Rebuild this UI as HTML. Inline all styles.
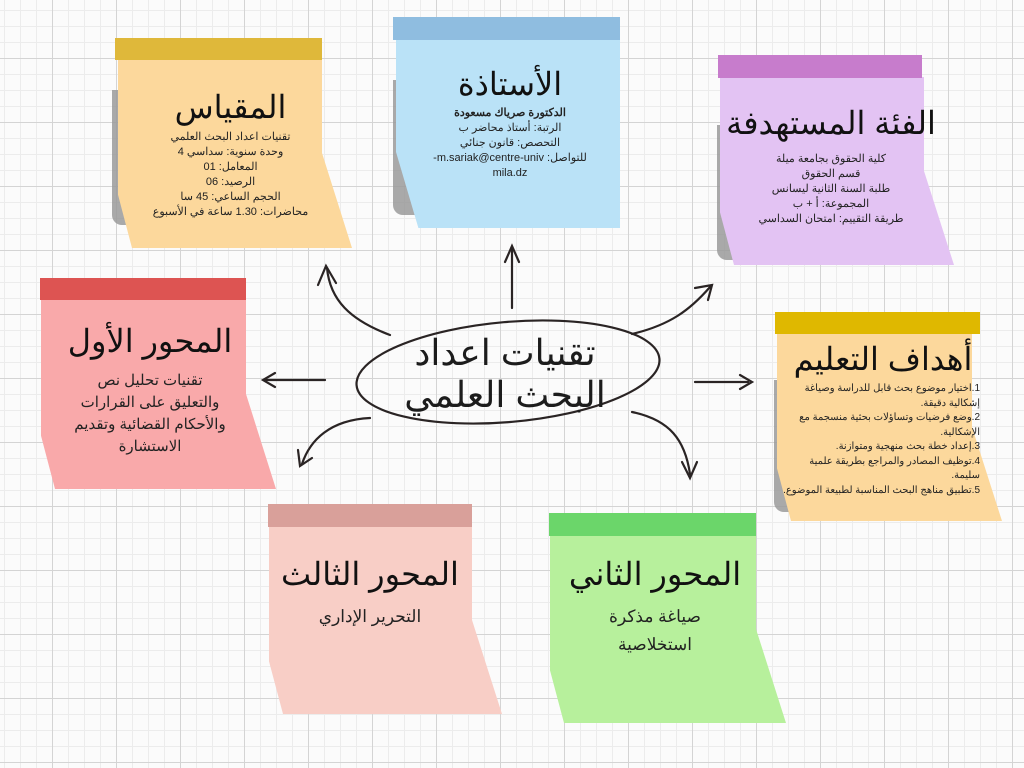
<!DOCTYPE html>
<html><head><meta charset="utf-8"><style>
body{margin:0;width:1024px;height:768px;overflow:hidden;position:relative;font-family:"Liberation Sans","Noto Sans CJK SC",sans-serif;
background-color:#fbfbfb;
background-image:linear-gradient(#d4d4d4 1px,transparent 1px),linear-gradient(90deg,#d4d4d4 1px,transparent 1px),linear-gradient(#ececec 1px,transparent 1px),linear-gradient(90deg,#ececec 1px,transparent 1px);
background-size:64px 64px,64px 64px,16px 16px,16px 16px;background-position:-12px -6px}
.n{position:absolute}
.sh{position:absolute;background:#9a9a9a;border-radius:0 0 0 10px;opacity:.85}
.b{position:absolute;clip-path:polygon(0 0,calc(100% - 30px) 0,calc(100% - 30px) 50%,100% 100%,14px 100%,0 72%)}
.t{position:absolute}
.tx{position:absolute;direction:rtl;text-align:center;color:#222}
h1{margin:0;font-weight:normal;font-size:32px;color:#111}
p{margin:0;font-size:11px;line-height:15px}
</style></head><body>
<svg class="n" style="left:0;top:0" width="1024" height="768">
<g fill="none" stroke="#2a2424" stroke-width="2.2" stroke-linecap="round">
<ellipse cx="508" cy="372" rx="152" ry="50" transform="rotate(-5 508 372)"/>
<path d="M390 335 C350 320 330 300 327 268"/><path d="M318 285 L326 266 L336 283"/>
<path d="M512 308 L512 248"/><path d="M505 262 L512 246 L519 262"/>
<path d="M632 334 C670 325 690 310 710 287"/><path d="M695 288 L712 285 L708 300"/>
<path d="M695 382 L748 382"/><path d="M740 375 L752 382 L740 389"/>
<path d="M632 412 C670 420 685 440 690 474"/><path d="M682 462 L690 478 L697 462"/>
<path d="M370 418 C330 420 310 440 302 464"/><path d="M298 450 L300 466 L312 458"/>
<path d="M325 380 L265 380"/><path d="M275 373 L263 380 L275 387"/>
</g></svg>
<div class="tx" style="left:355px;top:332px;width:300px"><div style="font-size:36px;line-height:42px;color:#1c1c1c">تقنيات اعداد<br>البحث العلمي</div></div>

<!-- المقياس -->
<div class="sh" style="left:112px;top:90px;width:40px;height:135px"></div>
<div class="b" style="left:118px;top:58px;width:234px;height:190px;background:#fcd89c"></div>
<div class="t" style="left:115px;top:38px;width:207px;height:22px;background:#dfb83a"></div>
<div class="tx" style="left:118px;top:88px;width:225px"><h1>المقياس</h1><p style="margin-top:4px">تقنيات اعداد البحث العلمي<br>وحدة سنوية: سداسي 4<br>المعامل: 01<br>الرصيد: 06<br>الحجم الساعي: 45 سا<br>محاضرات: 1.30 ساعة في الأسبوع</p></div>

<!-- الأستاذة -->
<div class="sh" style="left:393px;top:80px;width:40px;height:135px"></div>
<div class="b" style="left:396px;top:38px;width:224px;height:190px;background:#bae2f7;clip-path:polygon(0 0,100% 0,100% 100%,10% 100%,0 60%)"></div>
<div class="t" style="left:393px;top:17px;width:227px;height:23px;background:#8fbde0"></div>
<div class="tx" style="left:415px;top:65px;width:190px"><h1>الأستاذة</h1><p style="margin-top:3px"><b>الدكتورة صرياك مسعودة</b><br>الرتبة: أستاذ محاضر ب<br>التحصص: قانون جنائي<br>للتواصل: m.sariak@centre-univ-<br>mila.dz</p></div>

<!-- الفئة -->
<div class="sh" style="left:717px;top:125px;width:40px;height:135px"></div>
<div class="b" style="left:720px;top:77px;width:234px;height:188px;background:#e3c3f3"></div>
<div class="t" style="left:718px;top:55px;width:204px;height:23px;background:#c77ccc"></div>
<div class="tx" style="left:720px;top:104px;width:222px"><h1>الفئة المستهدفة</h1><p style="margin-top:10px">كلية الحقوق بجامعة ميلة<br>قسم الحقوق<br>طلبة السنة الثانية ليسانس<br>المجموعة: أ + ب<br>طريقة التقييم: امتحان السداسي</p></div>

<!-- أهداف -->
<div class="sh" style="left:774px;top:380px;width:40px;height:132px"></div>
<div class="b" style="left:777px;top:333px;width:225px;height:188px;background:#fcd89c"></div>
<div class="t" style="left:775px;top:312px;width:205px;height:22px;background:#dfb800"></div>
<div class="tx" style="left:778px;top:340px;width:210px"><h1>أهداف التعليم</h1><p style="text-align:right;font-size:10px;line-height:14.5px;margin-top:4px;padding-right:8px">1.اختيار موضوع بحث قابل للدراسة وصياغة إشكالية دقيقة.<br>2.وضع فرضيات وتساؤلات بحثية منسجمة مع الإشكالية.<br>3.إعداد خطة بحث منهجية ومتوازنة.<br>4.توظيف المصادر والمراجع بطريقة علمية سليمة.<br>5.تطبيق مناهج البحث المناسبة لطبيعة الموضوع.</p></div>

<!-- المحور الأول -->
<div class="b" style="left:41px;top:299px;width:235px;height:190px;background:#f9a9aa"></div>
<div class="t" style="left:40px;top:278px;width:206px;height:22px;background:#dd5452"></div>
<div class="tx" style="left:50px;top:322px;width:200px"><h1>المحور الأول</h1><p style="font-size:15px;line-height:22px;margin-top:10px">تقنيات تحليل نص<br>والتعليق على القرارات<br>والأحكام القضائية وتقديم<br>الاستشارة</p></div>

<!-- المحور الثالث -->
<div class="b" style="left:269px;top:526px;width:233px;height:188px;background:#f8cec6"></div>
<div class="t" style="left:268px;top:504px;width:204px;height:23px;background:#d9a09a"></div>
<div class="tx" style="left:270px;top:555px;width:200px"><h1>المحور الثالث</h1><p style="font-size:17px;line-height:24px;margin-top:12px">التحرير الإداري</p></div>

<!-- المحور الثاني -->
<div class="b" style="left:550px;top:535px;width:236px;height:188px;background:#b7f09c"></div>
<div class="t" style="left:549px;top:513px;width:207px;height:23px;background:#6bd66a"></div>
<div class="tx" style="left:555px;top:555px;width:200px"><h1>المحور الثاني</h1><p style="font-size:17px;line-height:28px;margin-top:10px">صياغة مذكرة<br>استخلاصية</p></div>
</body></html>
